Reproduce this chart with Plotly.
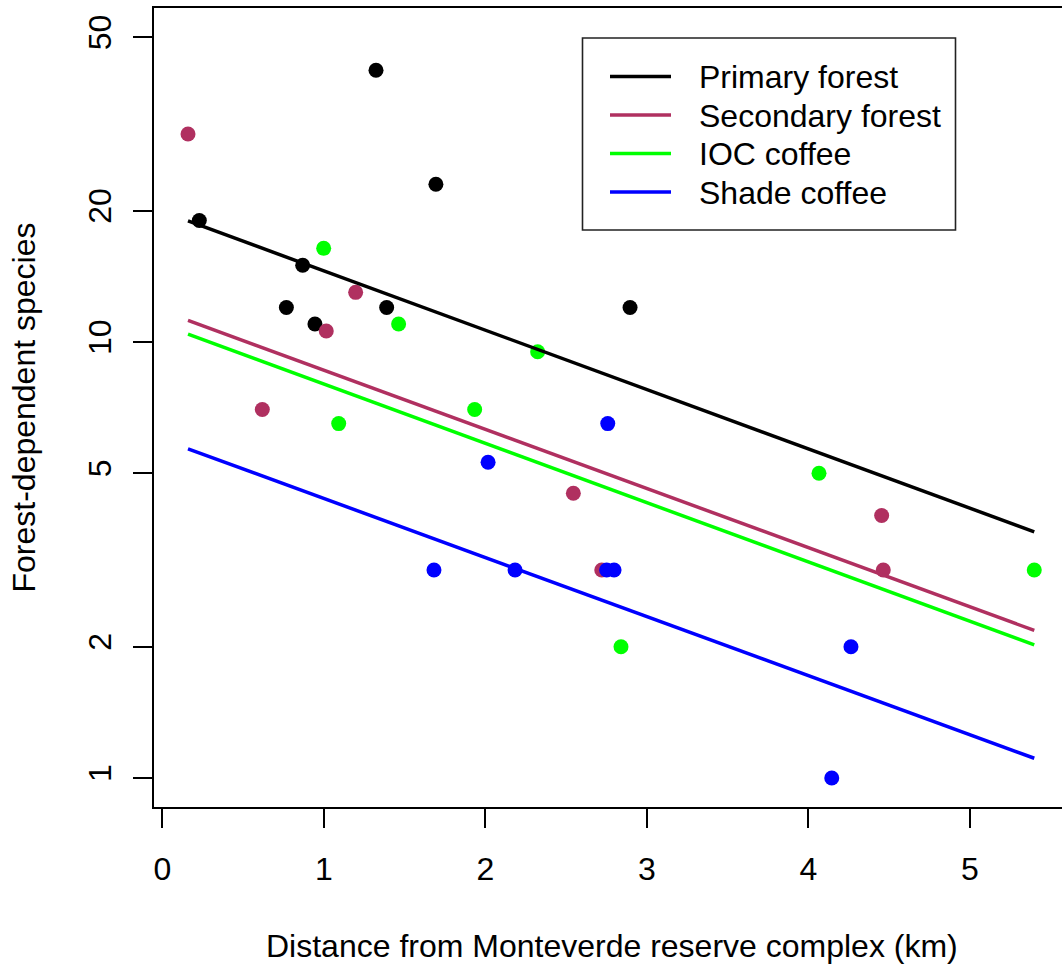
import plotly.graph_objects as go

# Survey sites: distance from the reserve (km) and forest-dependent species counts
primary_x = [1.322, 1.693, 0.228, 0.868, 0.767, 1.388, 0.944, 2.895]
primary_y = [42, 23, 19, 15, 12, 12, 11, 12]

secondary_x = [0.158, 1.196, 1.014, 0.618, 2.544, 2.720, 4.453, 4.463]
secondary_y = [30, 13, 10.6, 7, 4.5, 3, 4, 3]

ioc_x = [0.998, 1.462, 2.323, 1.933, 1.091, 4.065, 5.398, 2.839]
ioc_y = [16.4, 11, 9.5, 7, 6.5, 5, 3, 2]

shade_x = [2.757, 2.016, 1.681, 2.183, 2.750, 2.796, 4.263, 4.144]
shade_y = [6.5, 5.3, 3, 3, 3, 3, 2, 1]

habitats = ["Primary forest", "Secondary forest", "IOC coffee", "Shade coffee"]
colors = ["#000000", "#B03060", "#00FF00", "#0000FF"]

# Fitted log-linear model (common slope): fitted values at the ends of the distance range
fit_start = [18.95, 11.21, 10.42, 5.69]
fit_end = [3.67, 2.18, 2.02, 1.11]

x_ticks = [0, 1, 2, 3, 4, 5]
y_ticks = [1, 2, 5, 10, 20, 50]

FONT = "Liberation Sans, Arial, Helvetica, sans-serif"
W, H = 1062, 967
ML, MR, MT, MB = 154, 0, 8, 160
PW, PH = W - ML - MR, H - MT - MB


def px(p):
    return (p - ML) / PW


def py(p):
    return (H - MB - p) / PH


xs_all = primary_x + secondary_x + ioc_x + shade_x
x_lo, x_hi = min(xs_all), max(xs_all)

series_x = [primary_x, secondary_x, ioc_x, shade_x]
series_y = [primary_y, secondary_y, ioc_y, shade_y]

fig = go.Figure()

for xs, ys, c, name in zip(series_x, series_y, colors, habitats):
    fig.add_trace(go.Scatter(
        x=xs, y=ys, mode="markers", name=name, showlegend=False,
        marker=dict(color=c, size=15, line=dict(width=0)),
    ))

for s, e, c, name in zip(fit_start, fit_end, colors, habitats):
    fig.add_trace(go.Scatter(
        x=[x_lo, x_hi], y=[s, e], mode="lines", name=name, showlegend=False,
        line=dict(color=c, width=3.5),
    ))

# Legend box, line keys and labels
shapes = [dict(type="rect", xref="paper", yref="paper",
               x0=px(582.5), x1=px(955.5), y0=py(38), y1=py(230),
               line=dict(color="#222222", width=1.6), fillcolor="rgba(0,0,0,0)")]
annotations = []
key_rows = [76.5, 115, 153.5, 192]
for row, c, name in zip(key_rows, colors, habitats):
    shapes.append(dict(type="line", xref="paper", yref="paper",
                       x0=px(610), x1=px(671), y0=py(row), y1=py(row),
                       line=dict(color=c, width=3.5)))
    annotations.append(dict(xref="paper", yref="paper", x=px(697), y=py(row + 1),
                            text=name, showarrow=False, xanchor="left", yanchor="middle",
                            font=dict(family=FONT, size=32, color="black")))

# Axis titles
annotations.append(dict(xref="paper", yref="paper", x=px(611.5), y=py(946),
                        text="Distance from Monteverde reserve complex (km)",
                        showarrow=False, xanchor="center", yanchor="middle",
                        font=dict(family=FONT, size=32, color="black")))
annotations.append(dict(xref="paper", yref="paper", x=px(23), y=py(407.5),
                        text="Forest-dependent species", textangle=-90,
                        showarrow=False, xanchor="center", yanchor="middle",
                        font=dict(family=FONT, size=32, color="black")))

fig.update_layout(
    width=W, height=H,
    margin=dict(l=ML, r=MR, t=MT, b=MB, pad=0),
    paper_bgcolor="white", plot_bgcolor="white",
    shapes=shapes, annotations=annotations,
    showlegend=False,
    font=dict(family=FONT, size=32, color="black"),
)

fig.update_xaxes(
    range=[-0.0526, -0.0526 + PW / 161.5],
    tickvals=x_ticks, ticktext=[str(v) for v in x_ticks],
    ticks="outside", ticklen=19, tickwidth=1.6, tickcolor="black",
    showline=True, linecolor="black", linewidth=1.6, mirror=True,
    showgrid=False, zeroline=False,
    tickfont=dict(family=FONT, size=32, color="black"),
    ticklabelstandoff=14,
)

fig.update_yaxes(
    type="log",
    range=[-0.0665, -0.0665 + PH / 436.0],
    tickvals=y_ticks, ticktext=[str(v) for v in y_ticks],
    ticks="outside", ticklen=19, tickwidth=1.6, tickcolor="black",
    showline=True, linecolor="black", linewidth=1.6, mirror=False,
    showgrid=False, zeroline=False,
    tickangle=-90,
    tickfont=dict(family=FONT, size=32, color="black"),
    ticklabelstandoff=9,
)

fig.write_html("out.html")
